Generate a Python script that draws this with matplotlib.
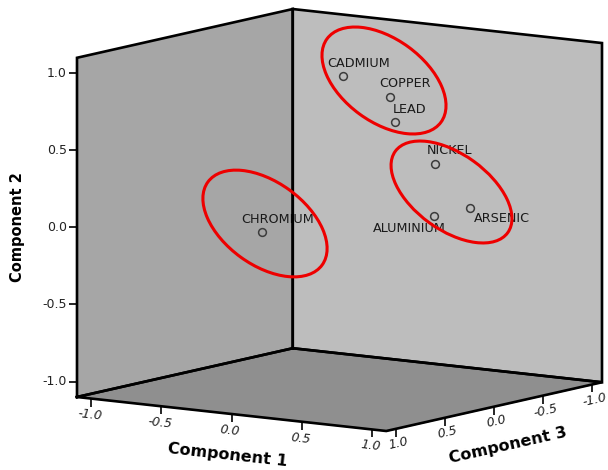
import numpy as np
import matplotlib
matplotlib.use('Agg')
import matplotlib.pyplot as plt
from matplotlib import transforms as mtrans
from matplotlib.patches import Ellipse
from matplotlib.markers import TICKLEFT, TICKDOWN
from mpl_toolkits.mplot3d.art3d import Poly3DCollection
from mpl_toolkits.mplot3d import proj3d

# ---------------- data ----------------
elements = ['CADMIUM', 'COPPER', 'LEAD', 'NICKEL', 'ALUMINIUM', 'ARSENIC', 'CHROMIUM']
comp1 = [0.01, 0.34, 0.41, 0.73, 0.73, 0.88, 0.09]
comp2 = [0.93, 0.83, 0.68, 0.45, 0.11, 0.16, 0.06]
comp3 = [-0.025, -0.025, 0.025, 0.075, 0.085, -0.065, 0.915]
tick_values = [-1.0, -0.5, 0.0, 0.5, 1.0]
tick_labels = ['-1.0', '-0.5', '0.0', '0.5', '1.0']
axis_titles = ['Component 1', 'Component 2', 'Component 3']

# ---------------- layout / style ----------------
W, H, DPI = 608, 470, 100
L = 1.1                      # axis range +-L
ELEV, AZIM = 9.07, 34.9
ZASPECT = 0.911
LEFT_WALL = '#a6a6a6'
BACK_WALL = '#bdbdbd'
FLOOR = '#8f8f8f'
EDGE_LW = 1.9
label_offsets = {'ARSENIC': (32, -11), 'ALUMINIUM': (-24, -12)}
default_offset = (15, 13)

plt.rcParams['font.family'] = ['DejaVu Sans']
fig = plt.figure(figsize=(W / DPI, H / DPI), dpi=DPI)
fig.patch.set_facecolor('white')
ax = fig.add_axes([0, 0, 1, 1], projection='3d', proj_type='ortho',
                  computed_zorder=False)
ax.view_init(elev=ELEV, azim=AZIM)
ax.set_box_aspect((1, 1, ZASPECT))
ax.set_xlim(-L, L)   # x = Component 3
ax.set_ylim(-L, L)   # y = Component 1
ax.set_zlim(-L, L)   # z = Component 2
ax.set_axis_off()

# panes (fills) and their outlines
floor = [(L, -L, -L), (L, L, -L), (-L, L, -L), (-L, -L, -L)]
left = [(L, -L, -L), (-L, -L, -L), (-L, -L, L), (L, -L, L)]
back = [(-L, -L, -L), (-L, L, -L), (-L, L, L), (-L, -L, L)]
for verts, col in [(floor, FLOOR), (left, LEFT_WALL), (back, BACK_WALL)]:
    ax.add_collection3d(Poly3DCollection([verts], facecolors=col,
                                         edgecolors=col, linewidths=0.3,
                                         zorder=1))
for verts in [floor, left, back]:
    loop = np.array(verts + [verts[0]])
    ax.plot(loop[:, 0], loop[:, 1], loop[:, 2], color='black', lw=EDGE_LW,
            solid_joinstyle='miter', solid_capstyle='projecting', zorder=3)

n = len(tick_values)
tick_kw = dict(ls='none', color='black', mew=1.2, ms=5.8, zorder=2)
ax.plot([L] * n, [-L] * n, tick_values, marker=TICKLEFT, **tick_kw)   # comp 2
ax.plot([L] * n, tick_values, [-L] * n, marker=TICKDOWN, **tick_kw)   # comp 1
ax.plot(tick_values, [L] * n, [-L] * n, marker=TICKDOWN, **tick_kw)   # comp 3

# points
ax.plot(comp3, comp1, comp2, ls='none', marker='o', ms=5.6, mfc='none',
        mec='#3c3c3c', mew=1.1, zorder=4)

# ---- calibrate axes position so the box lands where it should ----
fig.canvas.draw()
M = ax.get_proj()


def proj_px(x, y, z):
    px, py, _ = proj3d.proj_transform(np.atleast_1d(np.asarray(x, float)),
                                      np.atleast_1d(np.asarray(y, float)),
                                      np.atleast_1d(np.asarray(z, float)), M)
    return ax.transData.transform(np.column_stack([px, py]))


pix = proj_px([L, -L], [-L, L], [-L, -L])
bb = ax.get_position()
x0, y0, w, h = bb.x0 * W, bb.y0 * H, bb.width * W, bb.height * H
target_left = (77.0, H - 397.0)
target_right_x = 602.0
s = (target_right_x - target_left[0]) / (pix[1, 0] - pix[0, 0])
nx0 = target_left[0] - s * (pix[0, 0] - x0)
ny0 = target_left[1] - s * (pix[0, 1] - y0)
ax.set_position([nx0 / W, ny0 / H, s * w / W, s * h / H])
fig.canvas.draw()
M = ax.get_proj()

# text helpers: place 2-D text at projected 3-D anchors (pixel offsets)
pixT = mtrans.Affine2D().scale(1, -1).translate(0, H)   # top-left pixel coords


def anchor(x, y, z):
    d = proj_px(x, y, z)[0]
    return d[0], H - d[1]


def edge_angle(p, dvec):
    a = proj_px(*p)[0]
    b = proj_px(p[0] + dvec[0], p[1] + dvec[1], p[2] + dvec[2])[0]
    ang = np.degrees(np.arctan2(b[1] - a[1], b[0] - a[0]))
    ang = (ang + 180) % 180
    return ang - 180 if ang > 90 else ang


def put(p, s_, dx, dy, rot=0, **kw):
    ax0, ay0 = anchor(*p)
    ax.text2D(ax0 + dx, ay0 - dy, s_, transform=pixT, rotation=rot, **kw)


rot1 = edge_angle((L, 0, -L), (0, 1, 0))
rot3 = edge_angle((0, L, -L), (1, 0, 0))

tl_kw = dict(fontsize=9, color='#222222', ha='center', va='center', zorder=2)
for v, s_ in zip(tick_values, tick_labels):
    put((L, -L, v), s_, -10, 0, **{**tl_kw, 'ha': 'right'})
    put((L, v, -L), s_, -1.5, -16.5, rot=rot1, fontstyle='italic', **tl_kw)
    put((v, L, -L), s_, 2, -15, rot=rot3, fontstyle='italic', **tl_kw)

at_kw = dict(fontweight='bold', color='black', ha='center', va='center',
             zorder=2)
put((L, 0, -L), axis_titles[0], -4, -41, rot=rot1, fontsize=11.5, **at_kw)
put((L, -L, 0), axis_titles[1], -59.5, 0, rot=90, fontsize=10.5, **at_kw)
put((0, L, -L), axis_titles[2], 14, -39, rot=rot3, fontsize=11.5, **at_kw)

for name, c1, c2, c3 in zip(elements, comp1, comp2, comp3):
    dx, dy = label_offsets.get(name, default_offset)
    put((c3, c1, c2), name, dx, dy, fontsize=9.2, color='#1a1a1a',
        ha='center', va='center', zorder=2)

# ---- red ellipses (annotation overlay, in pixel space) ----
ov = fig.add_axes([0, 0, 1, 1], zorder=10)
ov.set_xlim(0, W)
ov.set_ylim(H, 0)
ov.axis('off')
ov.patch.set_alpha(0)
for (cxe, cye, a, b, ang) in [(384, 80.5, 70.6, 41.5, 36.2),
                               (451.5, 192, 69.4, 37.9, 35.9),
                               (265, 223.5, 70.6, 41.5, 36.0)]:
    ov.add_patch(Ellipse((cxe, cye), 2 * a, 2 * b, angle=ang, fill=False,
                         edgecolor='#ee0000', lw=2.2))

fig.savefig('out.png', dpi=DPI)
